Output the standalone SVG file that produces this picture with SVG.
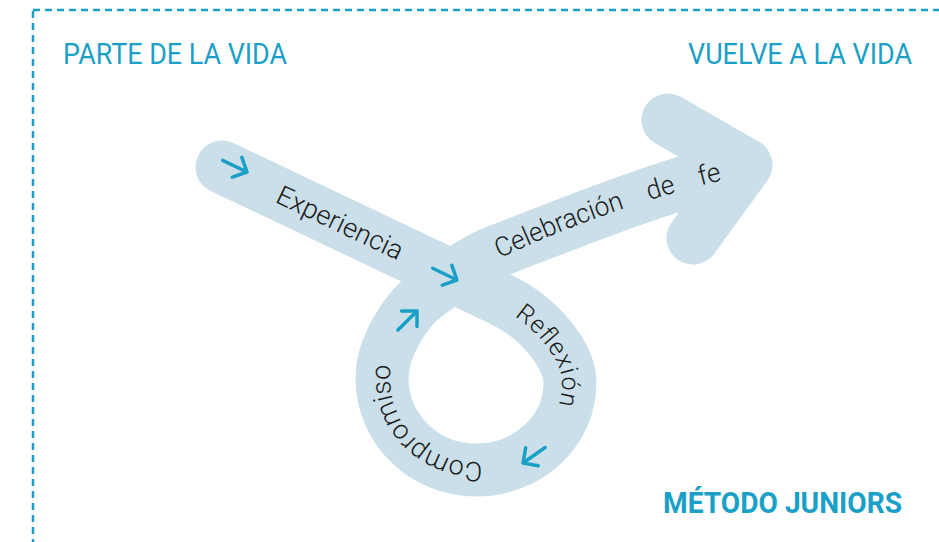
<svg xmlns="http://www.w3.org/2000/svg" width="939" height="542" viewBox="0 0 939 542">
<defs>
<style>
.title{font-family:Roboto,"Liberation Sans",sans-serif;font-size:30px;fill:#1aa0c6;}
.brand{font-family:Roboto,"Liberation Sans",sans-serif;font-size:29px;font-weight:700;fill:#1aa0c6;}
.lbl{font-family:Roboto,"Liberation Sans",sans-serif;font-weight:300;font-size:26px;fill:#1c1c1c;}
.band{fill:none;stroke:#cadfe9;stroke-width:53;stroke-linecap:round;stroke-linejoin:round;}
.arr{fill:none;stroke:#1aa0c6;stroke-width:3.5;stroke-linecap:round;stroke-linejoin:round;}
</style>
<path id="a" class="arr" d="M-27,0H0M-11,-11L0,0L-11,11"/>
<path id="loopText" d="M497,306 C532,323 562,358 562,383 C562,427 524,462 476,462 C428,462 390,425 390,378 C390,350 402,325 418,308"/>
<path id="celText" d="M480,268 C560,228 650,196 745,175"/>
</defs>
<g id="frame">
<rect x="33" y="10" width="1000" height="600" fill="none" stroke="#1aa0c6" stroke-width="2.5" stroke-dasharray="7 5"/>
</g>
<g id="titles">
<text class="title" x="63" y="64" textLength="224" lengthAdjust="spacingAndGlyphs">PARTE DE LA VIDA</text>
<text class="title" x="688" y="64" textLength="224" lengthAdjust="spacingAndGlyphs">VUELVE A LA VIDA</text>
<text class="brand" x="663" y="513" textLength="239" lengthAdjust="spacingAndGlyphs">MÉTODO JUNIORS</text>
</g>
<g id="connectors">
<path id="band" class="band" d="M222,167 L500,299 C538.5,317 570,355 570,383 C570,431 528,470 476,470 C424,470 382,429 382,378 C382,348 405,311 425,296 C441,284 472,261 495,252 C570,223 650,190 735,168"/>
<path id="arrowhead" class="band" d="M668,120 L746,165 L693,238"/>
<use href="#a" transform="translate(247,172) rotate(25.6)"/>
<use href="#a" transform="translate(457,280) rotate(25.7)"/>
<use href="#a" transform="translate(417,311) rotate(-45)"/>
<use href="#a" transform="translate(523,463) rotate(145)"/>
</g>
<g id="experiencia">
<text class="lbl" style="font-size:27px" transform="translate(340,223) rotate(25.4)" x="0" y="9" text-anchor="middle" textLength="137" lengthAdjust="spacingAndGlyphs">Experiencia</text>
</g>
<g id="celebracion">
<text class="lbl" style="font-size:27px;word-spacing:20px"><textPath href="#celText" startOffset="22" textLength="236" lengthAdjust="spacingAndGlyphs">Celebración de fe</textPath></text>
</g>
<g id="reflexion">
<text class="lbl" style="font-size:25px"><textPath href="#loopText" startOffset="20" textLength="107">Reflexión</textPath></text>
</g>
<g id="compromiso">
<text class="lbl" style="font-size:27px"><textPath href="#loopText" startOffset="228" textLength="153">Compromiso</textPath></text>
</g>
</svg>
